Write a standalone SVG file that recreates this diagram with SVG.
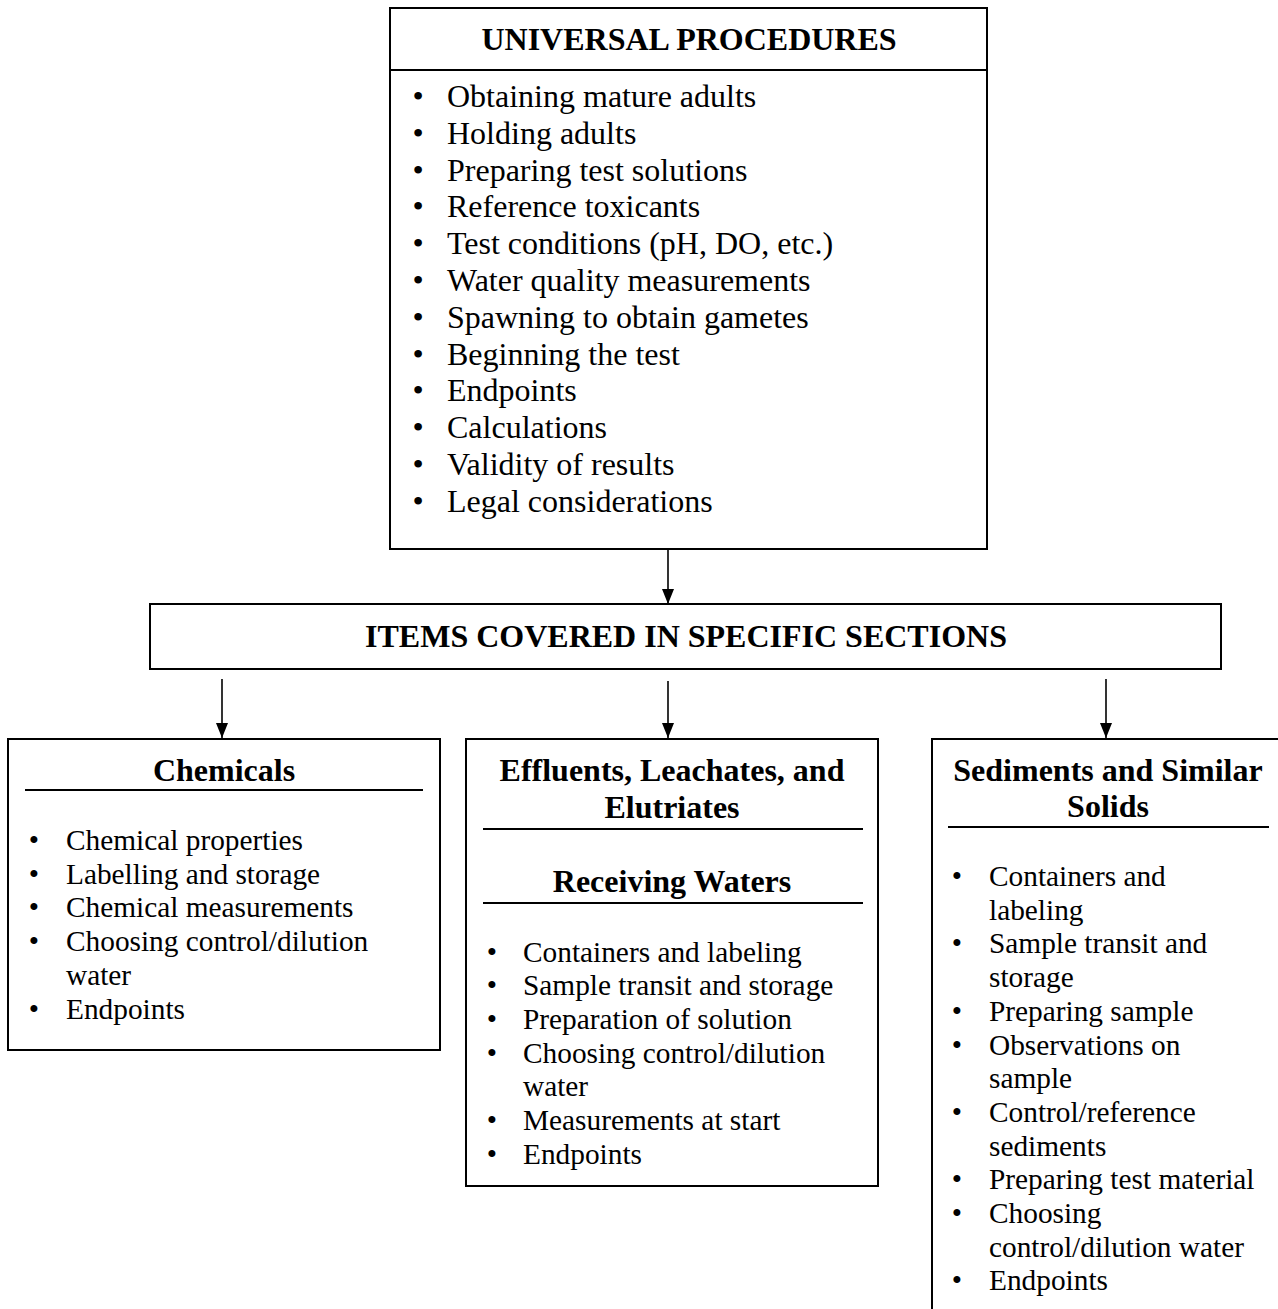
<svg xmlns="http://www.w3.org/2000/svg" width="1278" height="1309" viewBox="0 0 1278 1309">
<style>
.box{fill:#fff;stroke:#000;stroke-width:2}
.div{stroke:#000;stroke-width:2}
.h{font-family:"Liberation Serif","Times New Roman",serif;font-weight:bold;font-size:32px;text-anchor:middle;fill:#000}
.t1{font-family:"Liberation Serif","Times New Roman",serif;font-size:32px;fill:#000}
.t2{font-family:"Liberation Serif","Times New Roman",serif;font-size:29.33px;fill:#000}
.b{text-anchor:middle}
.conn{stroke:#000;stroke-width:1.6;fill:none}
</style>
<defs>
<marker id="ah" viewBox="0 0 15 12" refX="15" refY="6" markerWidth="15" markerHeight="12" markerUnits="userSpaceOnUse" orient="auto">
<path d="M0,0 L15,6 L0,12 Z" fill="#000"/>
</marker>
</defs>
<rect width="1278" height="1309" fill="#fff"/>

<g id="universal">
<rect class="box" x="390" y="8" width="597" height="541"/>
<line class="div" x1="390" y1="70" x2="987" y2="70"/>
<text class="h" x="689" y="50">UNIVERSAL PROCEDURES</text>
<g class="t1">
<text class="b" x="418" y="107">•</text><text x="447" y="107">Obtaining mature adults</text>
<text class="b" x="418" y="143.8">•</text><text x="447" y="143.8">Holding adults</text>
<text class="b" x="418" y="180.6">•</text><text x="447" y="180.6">Preparing test solutions</text>
<text class="b" x="418" y="217.4">•</text><text x="447" y="217.4">Reference toxicants</text>
<text class="b" x="418" y="254.2">•</text><text x="447" y="254.2">Test conditions (pH, DO, etc.)</text>
<text class="b" x="418" y="291">•</text><text x="447" y="291">Water quality measurements</text>
<text class="b" x="418" y="327.8">•</text><text x="447" y="327.8">Spawning to obtain gametes</text>
<text class="b" x="418" y="364.6">•</text><text x="447" y="364.6">Beginning the test</text>
<text class="b" x="418" y="401.4">•</text><text x="447" y="401.4">Endpoints</text>
<text class="b" x="418" y="438.2">•</text><text x="447" y="438.2">Calculations</text>
<text class="b" x="418" y="475">•</text><text x="447" y="475">Validity of results</text>
<text class="b" x="418" y="511.8">•</text><text x="447" y="511.8">Legal considerations</text>
</g>
</g>

<g id="items">
<rect class="box" x="150" y="604" width="1071" height="65"/>
<text class="h" x="686" y="647">ITEMS COVERED IN SPECIFIC SECTIONS</text>
</g>

<g id="chemicals">
<rect class="box" x="8" y="739" width="432" height="311"/>
<text class="h" x="224" y="781">Chemicals</text>
<line class="div" x1="25" y1="790" x2="423" y2="790"/>
<g class="t2">
<text class="b" x="34" y="850">•</text><text x="66" y="850">Chemical properties</text>
<text class="b" x="34" y="883.7">•</text><text x="66" y="883.7">Labelling and storage</text>
<text class="b" x="34" y="917.4">•</text><text x="66" y="917.4">Chemical measurements</text>
<text class="b" x="34" y="951.1">•</text><text x="66" y="951.1">Choosing control/dilution</text>
<text x="66" y="984.8">water</text>
<text class="b" x="34" y="1018.5">•</text><text x="66" y="1018.5">Endpoints</text>
</g>
</g>

<g id="effluents">
<rect class="box" x="466" y="739" width="412" height="447"/>
<text class="h" x="672" y="781">Effluents, Leachates, and</text>
<text class="h" x="672" y="818">Elutriates</text>
<line class="div" x1="483" y1="829" x2="863" y2="829"/>
<text class="h" x="672" y="892">Receiving Waters</text>
<line class="div" x1="483" y1="903" x2="863" y2="903"/>
<g class="t2">
<text class="b" x="492" y="961.5">•</text><text x="523" y="961.5">Containers and labeling</text>
<text class="b" x="492" y="995.2">•</text><text x="523" y="995.2">Sample transit and storage</text>
<text class="b" x="492" y="1028.9">•</text><text x="523" y="1028.9">Preparation of solution</text>
<text class="b" x="492" y="1062.6">•</text><text x="523" y="1062.6">Choosing control/dilution</text>
<text x="523" y="1096.3">water</text>
<text class="b" x="492" y="1130">•</text><text x="523" y="1130">Measurements at start</text>
<text class="b" x="492" y="1163.7">•</text><text x="523" y="1163.7">Endpoints</text>
</g>
</g>

<g id="sediments">
<rect class="box" x="932" y="739" width="400" height="620"/>
<text class="h" x="1108" y="781">Sediments and Similar</text>
<text class="h" x="1108" y="817">Solids</text>
<line class="div" x1="948" y1="827" x2="1269" y2="827"/>
<g class="t2">
<text class="b" x="957" y="886">•</text><text x="989" y="886">Containers and</text>
<text x="989" y="919.7">labeling</text>
<text class="b" x="957" y="953.4">•</text><text x="989" y="953.4">Sample transit and</text>
<text x="989" y="987.1">storage</text>
<text class="b" x="957" y="1020.8">•</text><text x="989" y="1020.8">Preparing sample</text>
<text class="b" x="957" y="1054.5">•</text><text x="989" y="1054.5">Observations on</text>
<text x="989" y="1088.2">sample</text>
<text class="b" x="957" y="1121.9">•</text><text x="989" y="1121.9">Control/reference</text>
<text x="989" y="1155.6">sediments</text>
<text class="b" x="957" y="1189.3">•</text><text x="989" y="1189.3">Preparing test material</text>
<text class="b" x="957" y="1223">•</text><text x="989" y="1223">Choosing</text>
<text x="989" y="1256.7">control/dilution water</text>
<text class="b" x="957" y="1290.4">•</text><text x="989" y="1290.4">Endpoints</text>
</g>
</g>

<g id="connectors">
<line class="conn" x1="668" y1="549" x2="668" y2="604" marker-end="url(#ah)"/>
<line class="conn" x1="222" y1="679" x2="222" y2="738" marker-end="url(#ah)"/>
<line class="conn" x1="668" y1="681" x2="668" y2="738" marker-end="url(#ah)"/>
<line class="conn" x1="1106" y1="679" x2="1106" y2="738" marker-end="url(#ah)"/>
</g>
</svg>
